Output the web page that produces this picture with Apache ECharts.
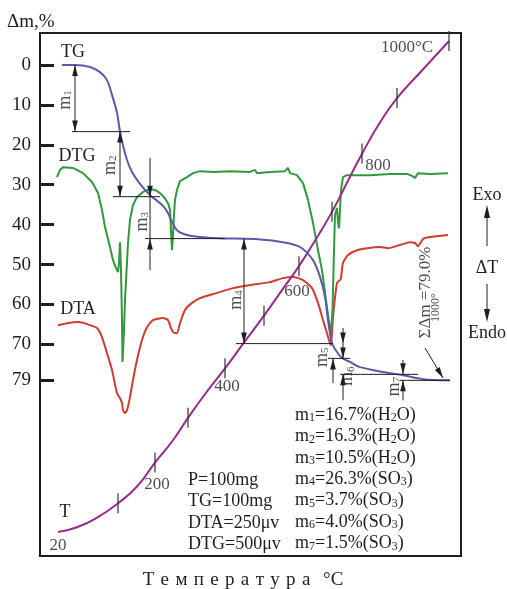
<!DOCTYPE html>
<html>
<head>
<meta charset="utf-8">
<script src="https://cdn.jsdelivr.net/npm/echarts@6/dist/echarts.min.js"></script>
<style>
  html, body { margin: 0; padding: 0; background: #fff; }
  #chart { width: 507px; height: 589px; }
</style>
</head>
<body>
<div id="chart"></div>
<script>
// Thermal analysis record: time (arbitrary, min) on x, mass loss Δm (%) on y.
// DTG, DTA and T traces are drawn in the same plotting units as the TG trace.

const FONT = '"Liberation Serif","Times New Roman",serif';
const INK = '#1e1e1e';

const yTicks = [0, 10, 20, 30, 40, 50, 60, 70, 79];

// TG: mass loss, %
const tgCurve = [[5.5,0],[8.75,0],[12.5,0.5],[15,1.8],[16.75,3.8],[18,7.5],[19.25,12.0],[20,16.7],
  [20.75,20.1],[21.75,23.8],[23,26.8],[25,29.8],[27.5,32.6],[29.25,34.0],[30.75,35.3],[32,37.1],
  [33,39.3],[34.25,41.4],[36.75,42.6],[40,43.1],[45,43.4],[55,43.7],[60.75,44.4],[65,45.6],
  [68.25,48.9],[70,53.1],[71.25,58.1],[72,63.9],[73,69.7],[74.25,71.9],[75.5,73.4],[77.5,74.4],
  [80,75.7],[85.75,76.9],[90.75,77.7],[95.75,78.7],[102.5,79.0]];

// DTG trace
const dtgCurve = [[4.25,28.1],[5,26.3],[5.75,25.6],[8.25,25.8],[10.75,27.1],[13,29.3],[14.5,32.1],
  [15.5,36.3],[16.25,40.6],[17.5,45.6],[18.25,48.9],[19,50.9],[19.5,51.9],[19.75,49.4],[20,44.4],
  [20.25,51.4],[20.5,63.9],[20.63,74.4],[21,66.4],[21.25,58.9],[21.75,49.4],[22,44.6],[22.5,38.8],
  [23.25,35.1],[24.25,33.1],[25.75,31.8],[27.5,31.1],[28.75,31.3],[30,32.1],[31,33.1],[32,34.6],
  [32.5,36.3],[32.75,41.4],[33,46.4],[33.25,42.6],[33.5,37.6],[33.75,33.8],[34.25,31.3],[35,29.1],
  [36.75,28.1],[38.25,27.1],[40,26.6],[43.25,26.8],[47.5,26.6],[52.5,26.8],[53.75,26.3],[54.25,27.1],
  [57.5,26.8],[61.25,26.6],[62,25.8],[62.5,27.1],[64.25,27.6],[65.75,29.6],[67,33.8],[68.25,39.6],
  [69.5,46.4],[70.5,51.4],[71.5,58.9],[72.25,64.4],[72.75,67.2],[73.13,61.4],[73.5,46.4],[73.75,37.6],
  [74.25,35.8],[74.5,39.3],[74.75,40.9],[75,36.3],[75.25,31.3],[75.75,28.1],[76.75,27.6],[82.5,27.6],
  [87.5,27.3],[91.75,27.3],[93,27.8],[93.75,28.3],[94.5,27.1],[97.5,27.3],[102,27.1]];

// DTA trace
const dtaCurve = [[4.5,65.2],[6.75,64.7],[9.5,64.4],[11.75,64.9],[14.25,65.9],[15.5,68.2],[16.75,72.2],
  [18,76.4],[19.25,82.2],[20,83.5],[20.5,84.7],[20.75,86.5],[21.25,87.2],[21.75,86.5],[22.5,83.2],
  [23.25,78.9],[24.25,73.9],[25.5,68.9],[26.75,65.7],[28.25,63.9],[30.75,63.4],[32,63.9],[32.75,65.9],
  [33.25,66.9],[34.25,67.2],[35,64.7],[36.25,61.4],[38,59.6],[40,58.4],[44.25,57.1],[48.25,55.9],
  [52.5,55.1],[57.5,54.4],[60.75,53.4],[63.25,53.1],[65.75,53.9],[68,55.9],[69.5,59.6],[70.75,63.9],
  [71.75,67.2],[72.5,69.7],[72.75,70.2],[73.25,63.2],[74.25,54.6],[75,53.9],[75.25,53.4],[75.75,49.6],
  [77,47.6],[79.25,46.4],[81.75,45.9],[85,45.6],[87,45.9],[90,45.1],[92.5,44.4],[93.75,44.6],
  [94.5,45.4],[95.75,43.6],[97.5,43.1],[102,42.6]];

// T trace (thermocouple)
const tCurve = [[4.5,117.0],[9.25,115.8],[14.25,113.4],[19.5,109.8],[24.25,105.6],[28.75,99.6],
  [33.25,94.0],[37,88.4],[41,82.8],[46.25,76.0],[51.25,69.2],[56,62.8],[60.5,56.4],[64.75,50.4],
  [69,43.6],[73,36.8],[77,29.0],[80.75,21.8],[84.75,14.8],[89.25,8.3],[95.5,1.4],[102.25,-6.0]];

// Temperature marks along the T trace, °C
const tempMarks = [100, 200, 300, 400, 500, 600, 700, 800, 900, 1000];
const tempMarkPoints = [[19.5,109.8],[28.75,99.6],[37,88.4],[46.25,76.0],[56,62.8],[64.75,50.4],
  [73,36.8],[80.5,22.2],[89.25,8.3],[102.25,-6.0]];
const startTemp = 20;

// Mass-loss steps, %
const massLosses = [16.7, 16.3, 10.5, 26.3, 3.7, 4.0, 1.5];
const lossSpecies = ['H2O', 'H2O', 'H2O', 'SO3', 'SO3', 'SO3', 'SO3'];
const totalLoss = 79.0;

// Step levels on the TG trace
const levels = [0];
massLosses.forEach(v => levels.push(+(levels[levels.length - 1] + v).toFixed(1)));

// Bracket layout: x of upper/lower arrow, outer-arrow tails (null = inner double arrow)
const bracketX = [[8.75,8.75],[20,20],[27.5,27.5],[51,51],[75.75,73.25],[75.75,75.75],[90.75,90.75]];
const bracketTails = [null, null, [9.7,7.9], null, [3.9,6.2], [3.7,6.5], [3.6,5]];
const bracketJoin = [false, false, true, false, false, false, false];
const levelSpans = [[8,22.5],[18.25,30],[26.25,46.25],[49,73.25],[72,77.5],[75,94.5],[90,102.5]];
const bracketLabelPos = [[6.25,8.8],[17.5,25.1],[25.5,39.3],[49,58.9],[70.5,73.2],[76.9,78.0],[88.5,80.6]];

// Geometry of segments (x1, y1, x2, y2, arrowhead)
const segments = [];
levelSpans.forEach((sp, i) => segments.push([sp[0], levels[i + 1], sp[1], levels[i + 1], 0]));
massLosses.forEach((m, i) => {
  const top = levels[i], bot = levels[i + 1];
  const [xt, xb] = bracketX[i];
  const tails = bracketTails[i];
  if (!tails) {
    const mid = (top + bot) / 2;
    segments.push([xt, mid, xt, top, 1], [xt, mid, xt, bot, 1]);
  } else {
    segments.push([xt, top - tails[0], xt, top, 1]);
    segments.push([xb, bot + tails[1], xb, bot, 1]);
    if (bracketJoin[i]) segments.push([xt, top, xt, bot, 0]);
  }
});
segments.push([96.25, 70.9, 100.75, 78.4, 1]);

function drawSegment(params, api) {
  const p1 = api.coord([api.value(0), api.value(1)]);
  const p2 = api.coord([api.value(2), api.value(3)]);
  const children = [{
    type: 'line',
    shape: { x1: p1[0], y1: p1[1], x2: p2[0], y2: p2[1] },
    style: { stroke: INK, lineWidth: 1 }
  }];
  if (api.value(4)) {
    const dx = p2[0] - p1[0], dy = p2[1] - p1[1];
    const len = Math.hypot(dx, dy) || 1;
    const ux = dx / len, uy = dy / len, L = 11, W = 2.8;
    const bx = p2[0] - ux * L, by = p2[1] - uy * L;
    children.push({
      type: 'polygon',
      shape: { points: [[p2[0], p2[1]], [bx - uy * W, by + ux * W], [bx + uy * W, by - ux * W]] },
      style: { fill: INK }
    });
  }
  return { type: 'group', children };
}

const sub = n => '{s|' + n + '}';
function speciesRich(sp) {
  return sp === 'H2O' ? '{t|H}' + sub(2) + '{t|O}' : '{t|SO}' + sub(3);
}

const graphicRich = {
  t: { fontFamily: FONT, fontSize: 18, fill: INK },
  s: { fontFamily: FONT, fontSize: 12, fill: INK, verticalAlign: 'bottom' }
};
const labelRich = {
  t: { fontFamily: FONT, fontSize: 18, color: INK },
  s: { fontFamily: FONT, fontSize: 11, color: INK, verticalAlign: 'bottom' }
};

function text(x, y, str, opts) {
  return {
    type: 'text', x, y, silent: true,
    style: Object.assign({
      text: str, fontFamily: FONT, fontSize: 18, fill: INK,
      align: 'center', verticalAlign: 'middle', textAlign: 'center', textVerticalAlign: 'middle'
    }, opts || {})
  };
}

const graphics = [
  text(7, 22, 'Δm,%', { fontSize: 19, align: 'left', textAlign: 'left' }),
  text(73, 52, 'TG'),
  text(77, 156, 'DTG'),
  text(78, 309, 'DTA'),
  text(65, 512, 'T'),
  text(487, 195, 'Exo'),
  text(487, 268, 'ΔT'),
  text(487, 333, 'Endo'),
  { type: 'line', silent: true, shape: { x1: 487, y1: 246, x2: 487, y2: 216 }, style: { stroke: INK, lineWidth: 1 } },
  { type: 'polygon', silent: true, shape: { points: [[487, 205], [484, 218], [490, 218]] }, style: { fill: INK } },
  { type: 'line', silent: true, shape: { x1: 487, y1: 284, x2: 487, y2: 312 }, style: { stroke: INK, lineWidth: 1 } },
  { type: 'polygon', silent: true, shape: { points: [[487, 322], [484, 309], [490, 309]] }, style: { fill: INK } },
  text(243, 580, 'Т\u2004е\u2004м\u2004п\u2004е\u2004р\u2004а\u2004т\u2004у\u2004р\u2004а\u2004\u2004°C', { fontSize: 19 })
];

const params = ['P=100mg', 'TG=100mg', 'DTA=250μv', 'DTG=500μv'];
params.forEach((p, i) => graphics.push(text(188, 480 + i * 21.4, p, { align: 'left', textAlign: 'left' })));

massLosses.forEach((v, i) => {
  const str = '{t|m}' + sub(i + 1) + '{t|=' + v.toFixed(1) + '%(}' + speciesRich(lossSpecies[i]) + '{t|)}';
  graphics.push(text(295, 415 + i * 21.4, str, { align: 'left', textAlign: 'left', rich: graphicRich }));
});

// Temperature mark labels and offsets
const tempLabelOffset = { 200: [2, 22], 400: [2, 18], 600: [-2, 25], 800: [16, 12], 1000: [-42, 7] };
const tempMarkData = tempMarks.map((t, i) => {
  const off = tempLabelOffset[t];
  return {
    value: tempMarkPoints[i],
    label: off ? { show: true, formatter: t === 1000 ? t + '°C' : String(t), offset: off } : { show: false }
  };
});

const option = {
  animation: false,
  grid: { left: 40, right: 46, top: 33, bottom: 33, show: true, borderColor: INK, borderWidth: 2,
          outerBoundsMode: 'none' },
  xAxis: { type: 'value', min: 0, max: 105.25, show: false },
  yAxis: {
    type: 'value', min: -8, max: 123, inverse: true,
    axisLine: { show: true, lineStyle: { color: INK, width: 2 } },
    axisTick: { show: true, inside: true, length: 14, customValues: yTicks, lineStyle: { color: INK, width: 3 } },
    axisLabel: { show: true, customValues: yTicks, fontSize: 19, fontFamily: FONT, color: INK, margin: 9 },
    splitLine: { show: false }
  },
  graphic: graphics,
  series: [
    { type: 'line', name: 'DTA', data: dtaCurve, symbol: 'none', smooth: 0.2,
      lineStyle: { color: '#d23b2f', width: 2 }, z: 2, silent: true },
    { type: 'line', name: 'DTG', data: dtgCurve, symbol: 'none',
      lineStyle: { color: '#2f9a3c', width: 2 }, z: 3, silent: true },
    { type: 'line', name: 'T', data: tCurve, symbol: 'none', smooth: 0.5,
      lineStyle: { color: '#9a2a8a', width: 2 }, z: 4, silent: true },
    { type: 'line', name: 'TG', data: tgCurve, symbol: 'none', smooth: 0.3,
      lineStyle: { color: '#5b5aa6', width: 2 }, z: 5, silent: true },
    { type: 'custom', name: 'steps', renderItem: drawSegment, data: segments,
      encode: { x: [0, 2], y: [1, 3] }, z: 6, silent: true },
    { type: 'scatter', name: 'T marks', data: tempMarkData, symbol: 'rect', symbolSize: [1.5, 20],
      itemStyle: { color: '#333' }, z: 7, silent: true,
      label: { position: 'inside', fontFamily: FONT, fontSize: 17, color: INK } },
    { type: 'scatter', name: 'T start', data: [{ value: tCurve[0] }], symbolSize: 0, silent: true,
      label: { show: true, position: 'inside', offset: [0, 13], formatter: String(startTemp),
               fontFamily: FONT, fontSize: 17, color: INK } },
    { type: 'scatter', name: 'step labels', symbolSize: 0, silent: true, z: 8,
      data: bracketLabelPos.map((p, i) => ({ value: p, label: { formatter: '{t|m}' + sub(i + 1) } })),
      label: { show: true, position: 'inside', rotate: 90, rich: labelRich } },
    { type: 'scatter', name: 'total', symbolSize: 0, silent: true, z: 8,
      data: [
        { value: [96.5, 57.0], label: { formatter: '{t|ΣΔm =' + totalLoss.toFixed(1) + '%}' } },
        { value: [99.0, 60.8], label: { formatter: '{s|1000°}' } }
      ],
      label: { show: true, position: 'inside', rotate: 90,
               rich: { t: { fontFamily: FONT, fontSize: 17, color: INK },
                       s: { fontFamily: FONT, fontSize: 12, color: INK } } } }
  ]
};

const chart = echarts.init(document.getElementById('chart'), null, { renderer: 'canvas' });
chart.setOption(option);
</script>
</body>
</html>
